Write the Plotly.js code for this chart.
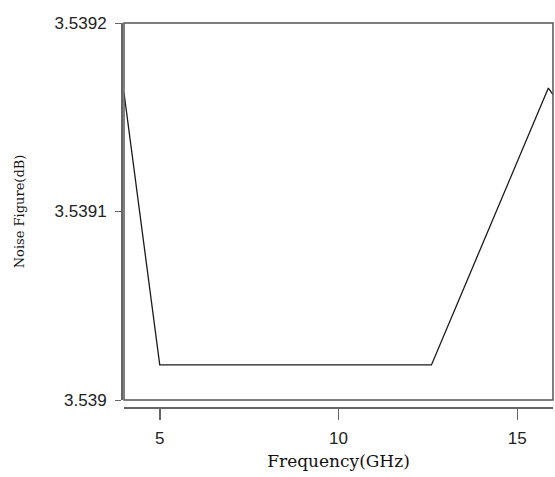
<!DOCTYPE html>
<html><head><meta charset="utf-8">
<script src="https://cdn.plot.ly/plotly-3.0.1.min.js"></script>
<style>html,body{margin:0;padding:0;background:#fff}#c{width:555px;height:477px}</style>
</head><body><div id="c"></div>
<script>
const freq = [4, 5, 12.6, 15.87, 16];
const noiseFigure = [3.539163, 3.5390186, 3.5390186, 3.5391655, 3.539162];
const yTickVals = [3.539, 3.5391, 3.5392];
const yTickText = ['3.539', '3.5391', '3.5392'];
const xTickVals = [5, 10, 15];

const W = 555, H = 477;
const ml = 121, mr = 2, mt = 23, mb = 70;
const pw = W - ml - mr, ph = H - mt - mb;

const trace = {x: freq, y: noiseFigure, type: 'scatter', mode: 'lines',
  line: {color: '#1a1a1a', width: 1.3}, hoverinfo: 'skip'};

const layout = {
  width: W, height: H,
  margin: {l: ml, r: mr, t: mt, b: mb},
  paper_bgcolor: '#fff', plot_bgcolor: '#fff',
  showlegend: false,
  xaxis: {
    range: [4, 16], domain: [3/pw, 1], anchor: 'free', position: 0,
    showgrid: false, zeroline: false, showline: true, linecolor: '#666', linewidth: 1.5,
    ticks: 'outside', ticklen: 11, tickcolor: '#666', tickwidth: 1.5,
    ticklabelstandoff: 4,
    tickvals: xTickVals, ticktext: xTickVals.map(String),
    tickfont: {family: 'Liberation Sans, Arial', size: 17, color: '#222'},
    title: {text: 'Frequency(GHz)', font: {family: 'DejaVu Serif', size: 17, color: '#111'}, standoff: 8}
  },
  yaxis: {
    range: [3.539, 3.5392], domain: [7/ph, 1], anchor: 'free', position: 0,
    showgrid: false, zeroline: false, showline: true, linecolor: '#666', linewidth: 1.5,
    ticks: 'outside', ticklen: 6, tickcolor: '#666', tickwidth: 1,
    ticklabelstandoff: 5,
    tickvals: yTickVals, ticktext: yTickText,
    tickfont: {family: 'Liberation Sans, Arial', size: 17, color: '#222'},
    title: {text: 'Noise Figure(dB)', font: {family: 'DejaVu Serif', size: 13, color: '#111'}, standoff: 25}
  },
  shapes: [{type: 'rect', xref: 'x domain', yref: 'y domain', x0: 0, x1: 1, y0: 0, y1: 1,
    line: {color: '#555', width: 1.5}, fillcolor: 'rgba(0,0,0,0)'}]
};
Plotly.newPlot('c', [trace], layout, {displayModeBar: false, staticPlot: true});
</script></body></html>
